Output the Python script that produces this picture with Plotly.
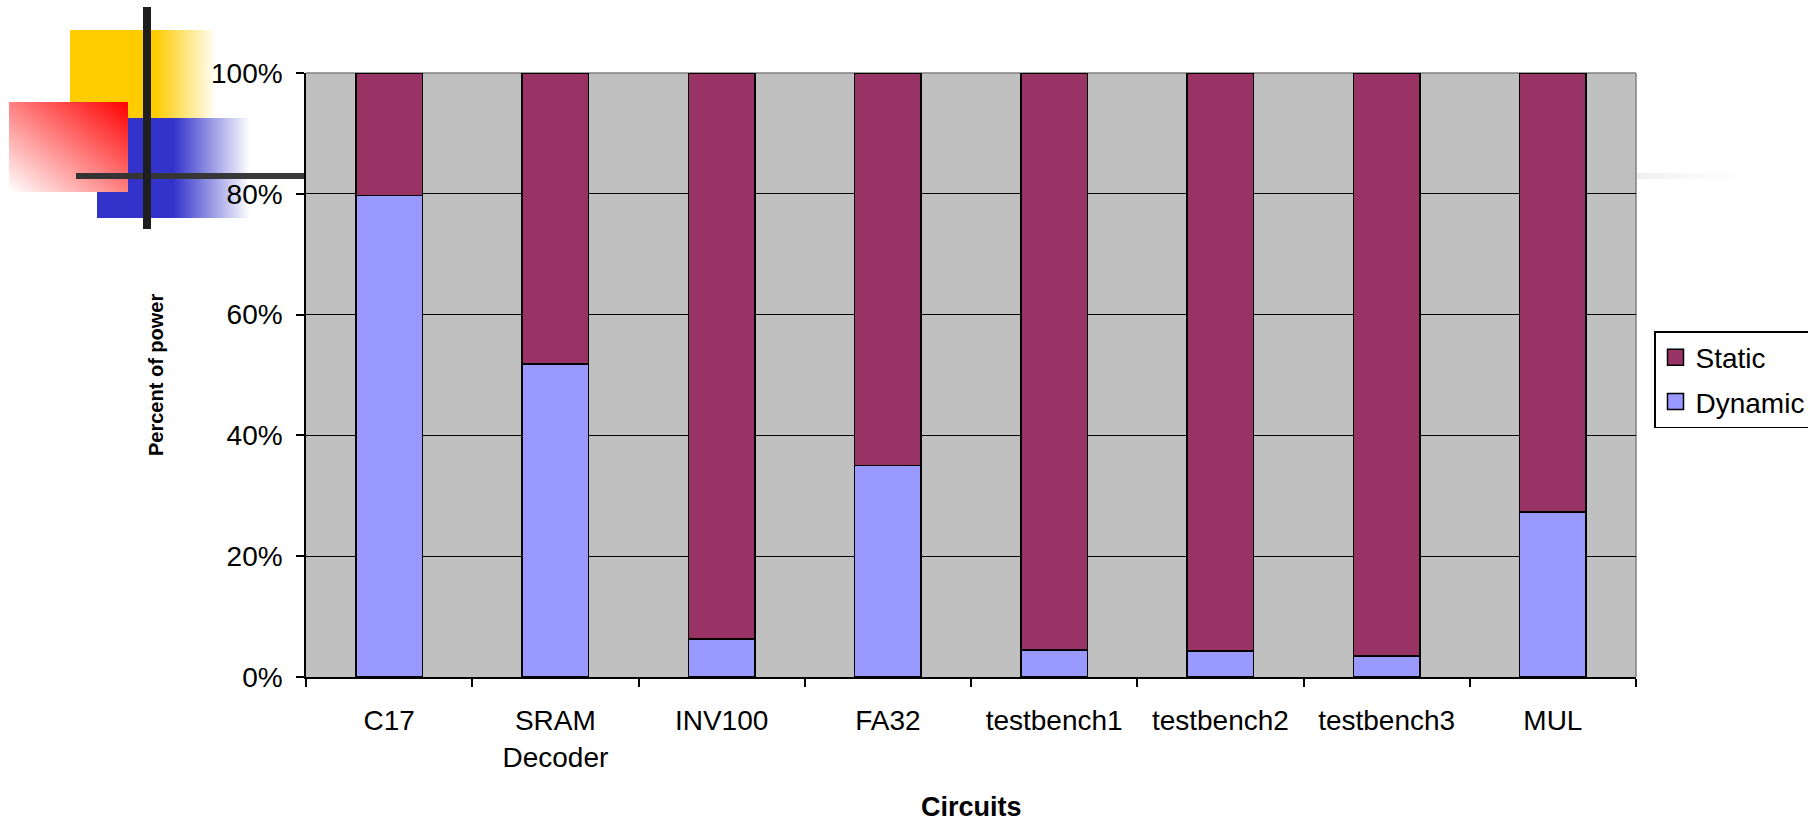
import base64
import plotly.graph_objects as go

# ---- data -------------------------------------------------------------
circuits = ["C17", "SRAM<br>Decoder", "INV100", "FA32",
            "testbench1", "testbench2", "testbench3", "MUL"]
dynamic_share = [0.797, 0.518, 0.063, 0.350, 0.045, 0.043, 0.035, 0.273]
static_share = [1 - d for d in dynamic_share]
y_ticks = [0, 0.2, 0.4, 0.6, 0.8, 1.0]

STATIC_COLOR = "#993366"
DYNAMIC_COLOR = "#9999FF"
FONT = "Liberation Sans, Arial, sans-serif"

# ---- page geometry ----------------------------------------------------
W, H = 1808, 824
ML, MR, MT, MB = 306, 172, 73, 147
PW, PH = W - ML - MR, H - MT - MB


def px_x(px):
    return (px - ML) / PW


def px_y(py):
    return (H - MB - py) / PH


# ---- slide decoration (coloured blocks and cross lines) ---------------
# the horizontal bar runs behind the chart, so only its parts outside the
# plot area are drawn: dark on the left, a faint tail on the right
deco_svg = f"""<svg xmlns="http://www.w3.org/2000/svg" width="{W}" height="{H}" viewBox="0 0 {W} {H}" preserveAspectRatio="none">
<defs>
<linearGradient id="gy" x1="0" y1="0" x2="1" y2="0">
<stop offset="0" stop-color="#FFCC00"/><stop offset="0.58" stop-color="#FFCC00"/>
<stop offset="1" stop-color="#FFCC00" stop-opacity="0"/></linearGradient>
<linearGradient id="gb" x1="0" y1="0" x2="1" y2="0">
<stop offset="0" stop-color="#3333CC"/><stop offset="0.5" stop-color="#3333CC"/>
<stop offset="1" stop-color="#3333CC" stop-opacity="0"/></linearGradient>
<linearGradient id="gr" x1="1" y1="0" x2="0" y2="1">
<stop offset="0" stop-color="#FF0000"/><stop offset="1" stop-color="#FFFFFF"/></linearGradient>
<linearGradient id="gl" x1="0" y1="0" x2="1" y2="0">
<stop offset="0" stop-color="#333333"/><stop offset="1" stop-color="#3A3A3A"/></linearGradient>
<linearGradient id="gt" x1="0" y1="0" x2="1" y2="0">
<stop offset="0" stop-color="#EEEEEE"/><stop offset="1" stop-color="#FFFFFF" stop-opacity="0"/></linearGradient>
</defs>
<rect x="70" y="30" width="147" height="88" fill="url(#gy)"/>
<rect x="97" y="118" width="153" height="100" fill="url(#gb)"/>
<rect x="9" y="102" width="119" height="90" fill="url(#gr)"/>
<rect x="76" y="173" width="{ML - 76}" height="6" fill="url(#gl)"/>
<rect x="{ML + PW}" y="173" width="{1780 - ML - PW}" height="6" fill="url(#gt)"/>
<rect x="143" y="7" width="8" height="222" fill="#1E1E1E"/>
</svg>"""
deco_src = "data:image/svg+xml;base64," + base64.b64encode(deco_svg.encode()).decode()

fig = go.Figure()

# stacked bars: dynamic at the bottom, static on top
fig.add_trace(go.Bar(x=circuits, y=dynamic_share, name="Dynamic",
                     marker=dict(color=DYNAMIC_COLOR, line=dict(color="black", width=1.5)),
                     width=0.4, showlegend=False))
fig.add_trace(go.Bar(x=circuits, y=static_share, name="Static",
                     marker=dict(color=STATIC_COLOR, line=dict(color="black", width=1.5)),
                     width=0.4, showlegend=False))

# legend swatches
for name, color, grp in [("Static", STATIC_COLOR, "s"), ("Dynamic", DYNAMIC_COLOR, "d")]:
    fig.add_trace(go.Scatter(x=[None], y=[None], mode="markers", name=name,
                             legendgroup=grp,
                             marker=dict(symbol="square", size=16, color=color,
                                         line=dict(color="black", width=1.5))))

fig.update_layout(
    width=W, height=H,
    margin=dict(l=ML, r=MR, t=MT, b=MB, autoexpand=False),
    barmode="stack",
    paper_bgcolor="white",
    plot_bgcolor="#C0C0C0",
    font=dict(family=FONT, size=28, color="black"),
    legend=dict(x=px_x(1654), y=px_y(331), xanchor="left", yanchor="top",
                bgcolor="white", bordercolor="black", borderwidth=1.5,
                font=dict(size=28), traceorder="grouped", tracegroupgap=5),
    images=[dict(source=deco_src, xref="paper", yref="paper",
                 x=px_x(0), y=px_y(0), sizex=W / PW, sizey=H / PH,
                 xanchor="left", yanchor="top", sizing="stretch", layer="below")],
    shapes=[
        dict(type="line", xref="paper", yref="paper", x0=0, x1=1, y0=1, y1=1,
             line=dict(color="#808080", width=1.5), layer="between"),
        dict(type="line", xref="paper", yref="paper", x0=1, x1=1, y0=0, y1=1,
             line=dict(color="#808080", width=1.5), layer="between"),
    ],
    annotations=[
        dict(text="<b>Circuits</b>", xref="paper", yref="paper",
             x=0.5, y=px_y(807), xanchor="center", yanchor="middle",
             showarrow=False, font=dict(size=27)),
        dict(text="<b>Percent of power</b>", xref="paper", yref="paper",
             x=px_x(156), y=px_y(375), xanchor="center", yanchor="middle",
             textangle=-90, showarrow=False, font=dict(size=20)),
    ],
)

fig.update_xaxes(type="category", tickson="boundaries", ticks="outside",
                 ticklen=8, tickwidth=1.5, tickcolor="black",
                 showline=True, linecolor="black", linewidth=1.5,
                 showgrid=False, ticklabelstandoff=18)
fig.update_yaxes(range=[0, 1], tickvals=y_ticks, tickformat=".0%",
                 ticks="outside", ticklen=8, tickwidth=1.5, tickcolor="black",
                 showline=True, linecolor="black", linewidth=1.5,
                 showgrid=True, gridcolor="black", gridwidth=1.3,
                 zeroline=False, ticklabelstandoff=8)

fig.write_html("out.html")
